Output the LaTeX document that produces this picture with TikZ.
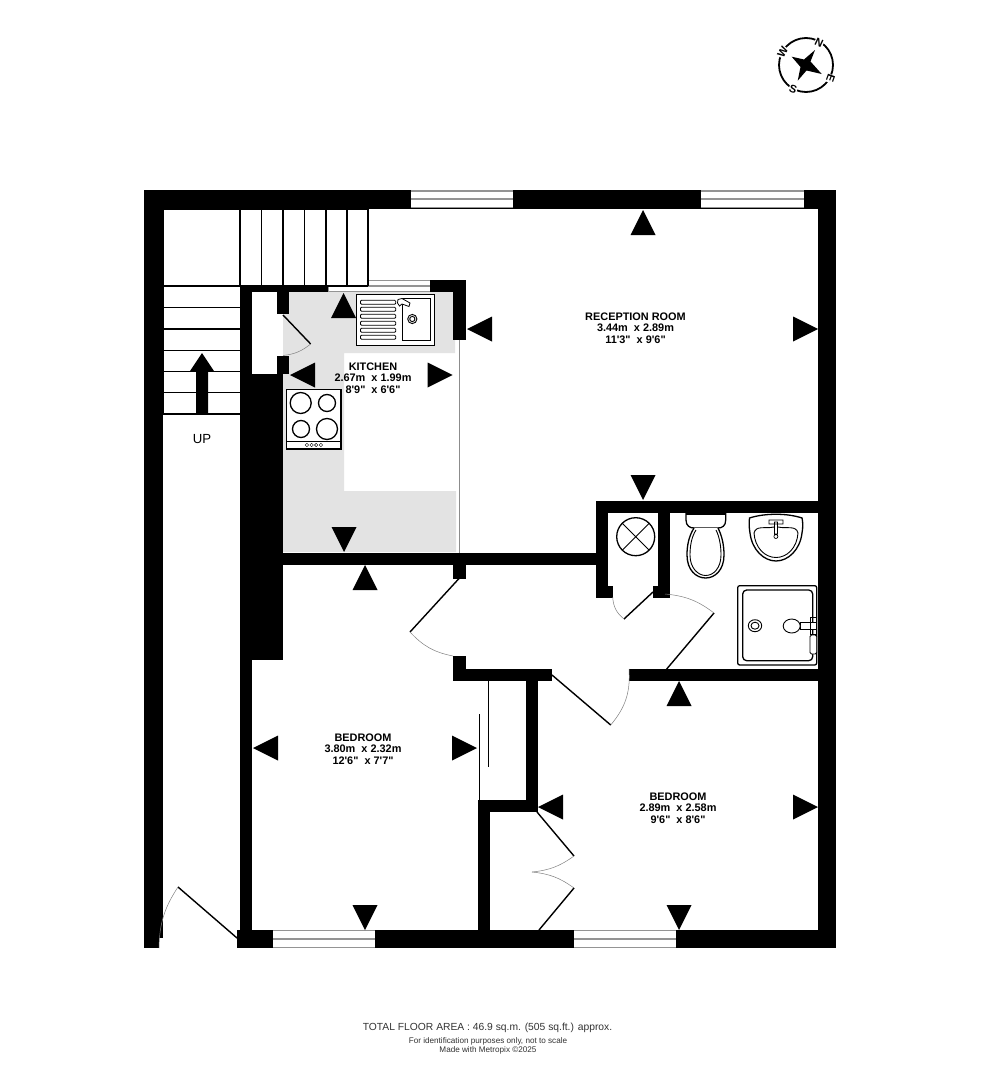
\documentclass[tikz,border=0pt]{standalone}
\usepackage{fontspec}
\setmainfont{Liberation Sans}
\newfontfamily\plainlib{Liberation Sans}
\tikzset{
  wall/.style={fill=black,draw=none},
  tri/.style={fill=black,draw=none},
  win/.style={draw=black!42,line width=1.2pt},
  leaf/.style={draw=black,line width=1.4pt},
  swing/.style={draw=black!50,line width=0.5pt},
  fix/.style={draw=black,line width=1.3pt},
  fixthin/.style={draw=black,line width=0.9pt},
  tread/.style={draw=black,line width=1.5pt},
  room/.style={font=\plainlib\fontsize{10.9}{11.4}\selectfont\bfseries,align=center,inner sep=0pt},
  foot/.style={align=center,inner sep=0pt,text=black!80},
  comp/.style={font=\fontsize{11}{11}\selectfont\bfseries,fill=white,inner sep=0.5pt}
}
\begin{document}
\begin{tikzpicture}[x=1pt,y=-1pt]
\useasboundingbox (0,0) rectangle (980,1092);
\fill[white] (0,0) rectangle (980,1092);
% kitchen floor
\fill[black!11] (283,292) -- (455,292) -- (455,353) -- (344,353) -- (344,491) -- (456,491) -- (456,552) -- (283,552) -- cycle;
\fill[white] (252,292) rectangle (277,373);
% outer walls
\fill[wall] (144,190) rectangle (836,209);
\fill[wall] (144,190) rectangle (159,948);
\fill[wall] (159,190) rectangle (162.5,938);
\fill[wall] (818,190) rectangle (836,948);
\fill[wall] (237,930) rectangle (836,948);
% windows
\foreach \a/\b in {411/513,701/804}{
  \fill[white] (\a,190) rectangle (\b,208);
  \draw[win] (\a,191) -- (\b,191) (\a,199) -- (\b,199) (\a,207.5) -- (\b,207.5);
}
\foreach \a/\b in {273/375,574/676}{
  \fill[white] (\a,930) rectangle (\b,948);
  \draw[win] (\a,930.7) -- (\b,930.7) (\a,939) -- (\b,939) (\a,947.3) -- (\b,947.3);
}
\draw[win] (368,280.5) -- (431,280.5) (368,286) -- (431,286) (328,291.5) -- (431,291.5) (328,286) -- (328,291.5);
% inner walls
\fill[wall] (240,286) rectangle (252,930);
\fill[wall] (240,286) rectangle (328,292);
\fill[wall] (277,292) rectangle (289,314);
\fill[wall] (277,356) rectangle (289,374);
\fill[wall] (252,373.5) rectangle (282.5,660);
\fill[wall] (430,280) rectangle (466,292);
\fill[wall] (453,280) rectangle (465.5,340);
\fill[wall] (252,553) rectangle (596,564.5);
\fill[wall] (453,564) rectangle (465.5,578.5);
\fill[wall] (596,500.5) rectangle (818,512.5);
\fill[wall] (596,500.5) rectangle (608,597.5);
\fill[wall] (596,586) rectangle (613,597.5);
\fill[wall] (658,512) rectangle (670,597.5);
\fill[wall] (653,586) rectangle (670,597.5);
\fill[wall] (453,656) rectangle (465.5,681);
\fill[wall] (453,669) rectangle (552,681);
\fill[wall] (629,669) rectangle (818,681);
\fill[wall] (525.7,681) rectangle (537.7,812);
\fill[wall] (478,800) rectangle (537.7,812);
\fill[wall] (478,800) rectangle (490,930);
% partition and wardrobe rails
\draw[draw=black!45,line width=0.7pt] (459,340) -- (459,553);
\draw[black,line width=1.3pt] (488.3,681) -- (488.3,766.7) (479.3,800) -- (479.3,714.3);
% stairs
\draw[tread] (163,209) -- (368,209) (163,209) -- (163,414);
\foreach \x in {240,261.7,283,304.5,326,347,368}{\draw[tread] (\x,209) -- (\x,286);}
\foreach \y in {286,307.7,329,350.3,371.7,392.7,414}{\draw[tread] (163,\y) -- (240,\y);}
\draw[tread] (240,286) -- (368,286);
\fill[wall] (196,414) -- (196,371) -- (190,371) -- (202,353) -- (214,371) -- (208,371) -- (208,414) -- cycle;
\node[inner sep=0pt,font=\fontsize{13.2}{14}\selectfont] (up) at (202,439) {UP};
% doors
\draw[leaf] (283,315) -- (310.7,344);
\draw[swing] (310.7,344) to[bend left=16] (283,355.5);
\draw[leaf] (459,578.5) -- (410,632);
\draw[swing] (410,632) to[bend right=18] (453,656);
\draw[leaf] (552,675) -- (610.7,725);
\draw[swing] (610.7,725) to[bend right=22] (629,669);
\draw[leaf] (666.7,669) -- (714,613);
\draw[swing] (714,613) to[bend right=16] (665,594);
\draw[leaf] (653,592) -- (624,619);
\draw[swing] (624,619) to[bend left=24] (612.7,597);
\draw[leaf] (178,887) -- (237,938);
\draw[swing] (178,887) to[bend right=16] (159,948);
\draw[leaf] (537,812) -- (574,856);
\draw[swing] (574,856) to[bend left=15] (532,872);
\draw[swing] (532,872) to[bend left=15] (574,888);
\draw[leaf] (574,888) -- (539,930);
% hob
\draw[fix,fill=white] (286.7,389.7) rectangle (341,449);
\draw[fixthin] (286.7,441) -- (341,441);
\draw[fix] (300.7,403) circle (10.5) (327,403) circle (8.5) (301,429) circle (8.5) (327,429) circle (10.5);
\foreach \x in {306.9,311.6,316.2,320.9}{\draw[black,line width=0.4pt] (\x,445) circle (1.7);}
% sink
\draw[fix,fill=white] (356.7,294.3) rectangle (434.3,345.3);
\draw[fixthin] (402.3,298.3) rectangle (430.7,340.7);
\foreach \y in {302.3,309.3,316.3,323.3,330.3,337.3}{
  \draw[black,line width=0.8pt,rounded corners=1pt] (360.5,\y-2) rectangle (395.7,\y+2);
}
\draw[fixthin] (412.3,319) circle (4.6) (412.3,319) circle (2.6);
\draw[black,line width=0.8pt,fill=white] (398,299.5) -- (402,298.5) -- (410,303) -- (409,306.5) -- (402,304) -- (399.5,306) -- (397.5,303) -- cycle;
% fan
\draw[fix] (635.7,536.7) circle (19);
\draw[fixthin] (622.3,523.3) -- (649.1,550.1) (622.3,550.1) -- (649.1,523.3);
% toilet
\draw[fix,fill=white] (686,513) -- (686,520) .. controls (686,526) and (690,528) .. (694,528) -- (718,528) .. controls (722,528) and (725.7,526) .. (725.7,520) -- (725.7,513);
\fill[black] (686,512) rectangle (725.7,515);
\draw[fix,fill=white] (694,528) .. controls (689,536) and (687,545) .. (687,555) .. controls (687,570) and (696,578) .. (705.7,578) .. controls (715,578) and (724,570) .. (724,555) .. controls (724,545) and (722,536) .. (718,528);
\draw[fixthin] (696,530) .. controls (691.5,537) and (690,546) .. (690,555) .. controls (690,568) and (698,575.5) .. (705.7,575.5) .. controls (713.5,575.5) and (721,568) .. (721,555) .. controls (721,546) and (719.5,537) .. (716,530);
% basin
\draw[fix] (749.5,518) .. controls (765,513) and (787,513) .. (802,518) .. controls (803,522) and (803,528) .. (802,533) .. controls (800,550) and (788,561) .. (776,561) .. controls (764,561) and (752,550) .. (750,533) .. controls (749,528) and (749,522) .. (749.5,518) -- cycle;
\draw[fixthin] (754,533) .. controls (756,525) and (765,529) .. (774,527) (778,527) .. controls (787,529) and (796,525) .. (798,533);
\draw[fixthin] (754,533) .. controls (755,548) and (765,557.5) .. (776,557.5) .. controls (787,557.5) and (797,548) .. (798,533);
\draw[black,line width=0.7pt] (769,520) rectangle (783,524) (774.5,522) rectangle (777.5,534) (775.9,536.5) circle (2);
% shower
\draw[fix,rounded corners=2pt] (737.7,585.7) rectangle (816.7,665);
\draw[fix,rounded corners=4pt] (742.7,590) rectangle (812.7,660.7);
\draw[fixthin] (755,625.7) ellipse (6.7 and 6) (755,625.7) ellipse (4 and 3.5);
\draw[black,line width=0.8pt,fill=white] (800,622) rectangle (816.7,629);
\draw[fixthin,fill=white] (791.7,626) ellipse (8.5 and 7);
\draw[black,line width=0.7pt] (810,617) -- (810,634) (816.7,617) -- (810,617) (816.7,634) -- (810,634);
\draw[fixthin,fill=white,rounded corners=1.5pt] (810,635) rectangle (816.7,654);
% direction markers
\foreach \x/\y in {643/210,343.5/293,365/565,679/681}{\fill[tri] (\x,\y) -- (\x+12.5,\y+25) -- (\x-12.5,\y+25) -- cycle;}
\foreach \x/\y in {643/500,344/552,365/930,679/930}{\fill[tri] (\x,\y) -- (\x+12.5,\y-25) -- (\x-12.5,\y-25) -- cycle;}
\foreach \x/\y in {290/375,467/329,253/748,538/807}{\fill[tri] (\x,\y) -- (\x+25,\y-12.5) -- (\x+25,\y+12.5) -- cycle;}
\foreach \x/\y in {452.7/375,818/329,477/748,818/807}{\fill[tri] (\x,\y) -- (\x-25,\y-12.5) -- (\x-25,\y+12.5) -- cycle;}
% labels
\node[room] (kitchen) at (373,378) {KITCHEN\\2.67m\ \ x 1.99m\\8'9"\ \ x 6'6"};
\node[room] (reception) at (635.5,328) {RECEPTION ROOM\\3.44m\ \ x 2.89m\\11'3"\ \ x 9'6"};
\node[room] (bed1) at (363,749) {BEDROOM\\3.80m\ \ x 2.32m\\12'6"\ \ x 7'7"};
\node[room] (bed2) at (678,808) {BEDROOM\\2.89m\ \ x 2.58m\\9'6"\ \ x 8'6"};
% footer
\node[foot,font=\fontsize{10.3}{12}\selectfont] (area) at (487.5,1027.5) {TOTAL FLOOR AREA : 46.9 sq.m. (505 sq.ft.) approx.};
\node[foot,font=\fontsize{8.15}{9.2}\selectfont] (note) at (488,1046) {For identification purposes only, not to scale\\Made with Metropix ©2025};
% compass
\draw[black,line width=1.8pt] (806,65) circle (27);
\fill[black] (815,50) -- (810.5,61.5) -- (821.7,74) -- (806.5,70.5) -- (797.7,80.7) -- (800.5,67) -- (791.7,56.7) -- (804,59.5) -- cycle;
\node[comp,rotate=-25] (n) at (819,42.7) {N};
\node[comp,rotate=-110] (e) at (830.7,78.7) {E};
\node[comp,rotate=-20] (s) at (793,89) {S};
\node[comp,rotate=60] (w) at (782.7,52) {W};
\end{tikzpicture}
\end{document}
